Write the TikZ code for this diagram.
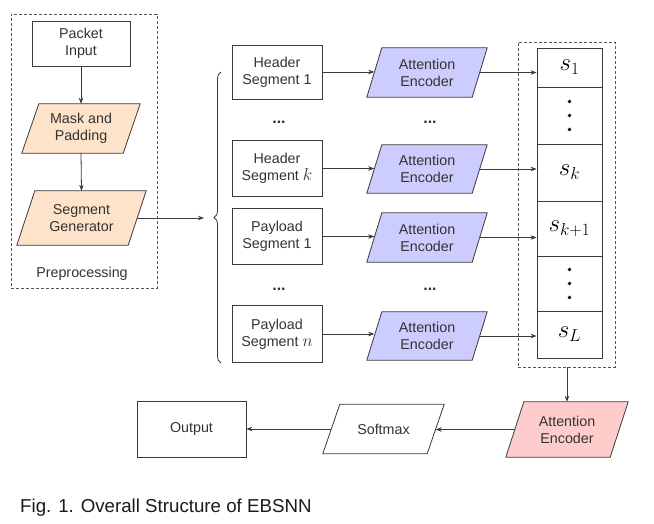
\documentclass[tikz,border=0pt]{standalone}
\usepackage[no-math]{fontspec}
\setmainfont{Liberation Sans}
\usetikzlibrary{arrows.meta,decorations.pathreplacing,backgrounds,calc}
\definecolor{lc}{HTML}{3A3A3A}
\definecolor{tc}{HTML}{333333}
\definecolor{dc}{HTML}{555555}
\definecolor{orangef}{HTML}{FDE3C9}
\definecolor{bluef}{HTML}{CCCCFF}
\definecolor{pinkf}{HTML}{FFCCCC}
\definecolor{capc}{HTML}{1A1A1A}
\newcommand\paral[3]{%
  \begin{pgfonlayer}{background}
  \path[line, fill=#3] ([xshift=#2]#1.north west) -- ([xshift=#2]#1.north east)
     -- ([xshift=-#2]#1.south east) -- ([xshift=-#2]#1.south west) -- cycle;
  \end{pgfonlayer}}
\newcommand\segmath[1]{{\fontsize{17}{17}\selectfont$#1$}}
\begin{document}
\begin{tikzpicture}[x=1pt,y=-1pt,
  line/.style={draw=lc, line width=0.8pt},
  arr/.style={line, -{Stealth[length=6pt,width=4.5pt]}},
  txt/.style={font=\fontsize{14.3}{17}\selectfont, text=tc, align=center, inner sep=0pt},
  rbox/.style={txt, draw=lc, line width=0.8pt},
  pnode/.style={txt},
  grpbox/.style={draw=dc, line width=0.8pt, dash pattern=on 3pt off 2pt, inner sep=0pt},
  cell/.style={draw=lc, line width=0.8pt, minimum width=65, inner sep=0pt, font=\fontsize{24}{24}\selectfont},
  dotsty/.style={txt, font=\fontsize{16}{17}\selectfont\bfseries}
]
\useasboundingbox (0,0) rectangle (654,524);

% preprocessing group
\node[grpbox, minimum width=146, minimum height=274] (pre) at (84,151) {};
\node[rbox, minimum width=98, minimum height=45] (pin) at (81,43.5) {Packet\\Input};
\node[pnode, minimum width=101, minimum height=49] (mask) at (81,128.5) {Mask and\\Padding};
\paral{mask}{8.5}{orangef}
\node[pnode, minimum width=111, minimum height=54] (sg) at (81.5,218) {Segment\\Generator};
\paral{sg}{9}{orangef}
\node[txt] (prelab) at (82,274) {Preprocessing};
\draw[arr] (pin.south) -- (mask.north);
\draw[arr] (mask.south) -- (sg.north);

% brace
\coordinate (bin) at (204,218);
\draw[arr] (sg.east) -- (bin);
\coordinate (bb) at (221,363);
\coordinate (bt) at (221,72);
\draw[line, decorate, decoration={brace, amplitude=7pt}] (bb) -- (bt);

% segments
\node[rbox, minimum width=90, minimum height=54] (hs1) at (277,72) {Header\\Segment 1};
\node[rbox, minimum width=90, minimum height=56] (hsk) at (277,168.5) {Header\\Segment \segmath{k}};
\node[rbox, minimum width=90, minimum height=56] (ps1) at (277,236.5) {Payload\\Segment 1};
\node[rbox, minimum width=90, minimum height=57] (psn) at (277,334) {Payload\\Segment \segmath{n}};

\node[dotsty] (d1) at (279,122) {...};
\node[dotsty] (d2) at (430,122) {...};
\node[dotsty] (d3) at (279,289) {...};
\node[dotsty] (d4) at (430,289) {...};

% attention encoders
\node[pnode, minimum width=105, minimum height=49] (ae1) at (427,72.5) {Attention\\Encoder};
\paral{ae1}{7.5}{bluef}
\node[pnode, minimum width=105, minimum height=48] (aek) at (427,169) {Attention\\Encoder};
\paral{aek}{7.5}{bluef}
\node[pnode, minimum width=105, minimum height=49] (aep) at (427,237.5) {Attention\\Encoder};
\paral{aep}{7.5}{bluef}
\node[pnode, minimum width=105, minimum height=48] (aen) at (427,336) {Attention\\Encoder};
\paral{aen}{7.5}{bluef}

\draw[arr] (hs1.east) -- (hs1.east -| ae1.west);
\draw[arr] (hsk.east) -- (hsk.east -| aek.west);
\draw[arr] (ps1.east) -- (ps1.east -| aep.west);
\draw[arr] (psn.east) -- (psn.east -| aen.west);

% column
\node[grpbox, minimum width=97, minimum height=325] (grp) at (566.5,204.5) {};
\node[cell, minimum height=39] (c1) at (569.5,67.5) {$s_1$};
\node[cell, minimum height=57] (c2) at (569.5,115.5) {};
\node[cell, minimum height=57] (c3) at (569.5,172.5) {$s_k$};
\node[cell, minimum height=55] (c4) at (569.5,228.5) {$s_{k+1}$};
\node[cell, minimum height=55] (c5) at (569.5,283.5) {};
\node[cell, minimum height=47] (c6) at (569.5,334.5) {$s_L$};
\foreach \c in {c2,c5}{
  \fill[black] (\c.center) ++(0,-14) circle (1.8);
  \fill[black] (\c.center) circle (1.8);
  \fill[black] (\c.center) ++(0,14) circle (1.8);
}

\draw[arr] (ae1.east) -- (ae1.east -| c1.west);
\draw[arr] (aek.east) -- (aek.east -| c3.west);
\draw[arr] (aep.east) -- (aep.east -| c4.west);
\draw[arr] (aen.east) -- (aen.east -| c6.west);

% bottom row
\node[pnode, minimum width=104, minimum height=55] (pink) at (567,429.5) {Attention\\Encoder};
\paral{pink}{9}{pinkf}
\node[pnode, minimum width=104, minimum height=49] (soft) at (383.5,429) {Softmax};
\paral{soft}{8.5}{white}
\node[rbox, minimum width=109, minimum height=56] (out) at (191.5,429) {Output};

\draw[arr] (grp.south -| pink.north) -- (pink.north);
\draw[arr] (pink.west) -- (pink.west -| soft.east);
\draw[arr] (soft.west) -- (soft.west -| out.east);

\node[anchor=base west, font=\fontsize{18.7}{20}\selectfont, text=capc, inner sep=0pt] (cap) at (20,512) {Fig. 1. Overall Structure of EBSNN};
\end{tikzpicture}
\end{document}
